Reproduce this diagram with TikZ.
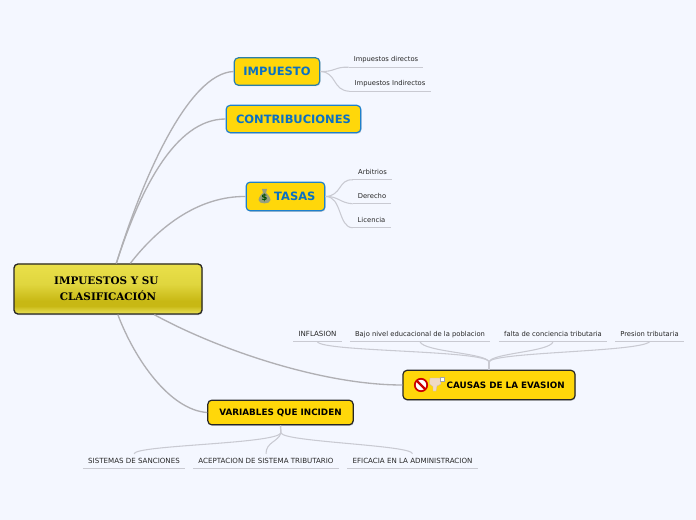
\documentclass[tikz,border=0pt]{standalone}
\usepackage{fontspec}
\setmainfont{DejaVu Sans}
\newfontfamily\rootfont{DejaVu Serif}
\usetikzlibrary{positioning, shadows}
\definecolor{paper}{HTML}{F4F7FF}
\definecolor{gold}{HTML}{FFD70A}
\definecolor{azul}{HTML}{0A70C4}
\definecolor{borde}{HTML}{2B7FA8}
\definecolor{bordeazul}{HTML}{1E80CC}
\definecolor{rama}{HTML}{B0B0B4}
\definecolor{hoja}{HTML}{C9CAD2}
\definecolor{rootlow}{HTML}{E2D84A}
\definecolor{rootdark}{HTML}{C8B814}
\definecolor{rootmid}{HTML}{E0D63E}
\definecolor{roottop}{HTML}{EAE04A}
\definecolor{bolsa}{HTML}{98A080}
\definecolor{dedo}{HTML}{EFD9C4}
\pgfdeclareverticalshading{rootshade}{100bp}{
  color(0bp)=(rootlow); color(27bp)=(rootlow); color(33bp)=(rootdark); color(38bp)=(rootdark);
  color(55bp)=(rootmid); color(75bp)=(roottop); color(100bp)=(roottop)}
\begin{document}
\begin{tikzpicture}[x=0.75pt,y=-0.75pt,
    main/.style = {draw=black!85, rounded corners=3pt, line width=0.9pt, inner sep=0pt,
      fill=gold, drop shadow={shadow xshift=0.5pt, shadow yshift=-0.8pt, opacity=0.35}},
    bluebox/.style = {main, draw=borde, text=azul, font=\bfseries\fontsize{8.6}{10}\selectfont},
    blackbox/.style = {main, font=\bfseries\fontsize{6.6}{8}\selectfont},
    leaf/.style = {inner xsep=3.75pt, inner ysep=0pt, minimum height=10.5pt, anchor=center,
      text height=4.1pt, text depth=1.1pt,
      text=black!85, font=\fontsize{5.08}{6}\selectfont,
      append after command={(\tikzlastnode.south west) edge[hoja, line width=0.7pt, -] (\tikzlastnode.south east)}},
    capsleaf/.style = {leaf, font=\fontsize{5.32}{6}\selectfont},
    branch/.style = {rama, line width=1pt},
    twig/.style = {hoja, line width=0.8pt},
  ]
  \useasboundingbox[fill=paper] (0,0) rectangle (696,520);

  % main topics
  \node[main, line width=1pt, minimum width=141pt, minimum height=37.5pt, align=center,
    shading=rootshade, font=\rootfont\bfseries\fontsize{7.8}{12}\selectfont] (root) at (108,289)
    {IMPUESTOS Y SU\hspace*{2.5pt}\\ CLASIFICACIÓN};
  \node[bluebox, minimum width=64pt, minimum height=20.5pt] (impuesto) at (277,71.5) {IMPUESTO};
  \node[bluebox, draw=bordeazul, minimum width=101pt, minimum height=20.5pt] (contrib) at (293.5,119) {CONTRIBUCIONES};
  \node[bluebox, draw=bordeazul, minimum width=59pt, minimum height=21.5pt] (tasas) at (285.5,196.5) {\hspace*{14pt}TASAS};
  \node[blackbox, minimum width=129pt, minimum height=22pt] (causas) at (489,385) {\hspace*{25pt}CAUSAS DE LA EVASION};
  \node[blackbox, minimum width=109pt, minimum height=18.5pt] (variables) at (280.5,412.5) {VARIABLES QUE INCIDEN};

  % leaves
  \node[leaf] (directos) at (386,60) {Impuestos directos};
  \node[leaf] (indirectos) at (390,84) {Impuestos Indirectos};
  \node[leaf] (arbitrios) at (372.5,172.5) {Arbitrios};
  \node[leaf] (derecho) at (372,196.5) {Derecho};
  \node[leaf] (licencia) at (371.5,220.5) {Licencia};
  \node[capsleaf] (inflasion) at (317.5,334.5) {INFLASION};
  \node[leaf] (bajo) at (420,334.5) {Bajo nivel educacional de la poblacion};
  \node[leaf] (falta) at (553,334.5) {falta de conciencia tributaria};
  \node[leaf] (presion) at (649.5,334.5) {Presion tributaria};
  \node[capsleaf] (sistemas) at (134,461) {SISTEMAS DE SANCIONES};
  \node[capsleaf] (aceptacion) at (266,461) {ACEPTACION DE SISTEMA TRIBUTARIO};
  \node[capsleaf] (eficacia) at (412.5,461) {EFICACIA EN LA ADMINISTRACION};

  % branches from the centre
  \draw[branch] (root.72) .. controls (142,180) and (188,73) .. (impuesto.west);
  \draw[branch] (root.72) .. controls (140,190) and (175,119) .. (contrib.west);
  \draw[branch] (root.49) .. controls (160,225) and (200,196) .. (tasas.west);
  \draw[branch] (root.-29) .. controls (215,348) and (320,385) .. (causas.west);
  \draw[branch] (root.-69) .. controls (135,360) and (170,410) .. (variables.west);

  % twigs
  \draw[twig] (impuesto.east) .. controls (335,72) and (335,66.5) .. (directos.south west);
  \draw[twig] (impuesto.east) .. controls (337,72) and (332,90.5) .. (indirectos.south west);
  \draw[twig] (tasas.east) .. controls (342,196) and (338,179) .. (arbitrios.south west);
  \draw[twig] (tasas.east) .. controls (338,196) and (340,203) .. (derecho.south west);
  \draw[twig] (tasas.east) .. controls (342,196) and (338,227) .. (licencia.south west);

  \coordinate (causasjoin) at (489,362);
  \draw[twig, line width=1.1pt] (causas.north) -- (causasjoin);
  \draw[twig] (causasjoin) .. controls (487,350) and (322,352) .. (inflasion.south);
  \draw[twig] (causasjoin) .. controls (487,353) and (424,352) .. (bajo.south);
  \draw[twig] (causasjoin) .. controls (491,353) and (550,352) .. (falta.south);
  \draw[twig] (causasjoin) .. controls (491,352) and (640,352) .. (presion.south);

  \coordinate (variablesjoin) at (281,433);
  \draw[twig, line width=1.1pt] (variables.south) -- (variablesjoin);
  \draw[twig] (variablesjoin) .. controls (275,444) and (136,445) .. (sistemas.north);
  \draw[twig] (variablesjoin) .. controls (278,442) and (266,442) .. (aceptacion.north);
  \draw[twig] (variablesjoin) .. controls (284,442) and (412,445) .. (eficacia.north);

  % icons
  \fill[bolsa] (262,189) -- (267,189) -- (266,193) .. controls (269,195) and (270.5,199) .. (270.5,200) .. controls (270.5,204.5) and (258.5,204.5) .. (258.5,200) .. controls (258.5,199) and (260,195) .. (263,193) -- cycle;
  \node[text=black!70!green, font=\bfseries\fontsize{6.5}{7}\selectfont, inner sep=0pt] (dollar) at (264.5,198) {\$};
  \draw[red!80!black, line width=1.3pt, fill=white] (421,385) circle (6.2);
  \draw[red!80!black, line width=1.6pt] (416.7,380.7) -- (425.3,389.3);
  \draw[dedo!85!black, line width=0.2pt, fill=dedo] (430,378) -- (440,378) -- (441,384) -- (437,386) -- (436,391) -- (433,391) -- (433,386.5) -- (429.5,384) -- cycle;
  \fill[white, draw=black!35, line width=0.2pt] (440,377) rectangle (444,381.5);
\end{tikzpicture}
\end{document}
